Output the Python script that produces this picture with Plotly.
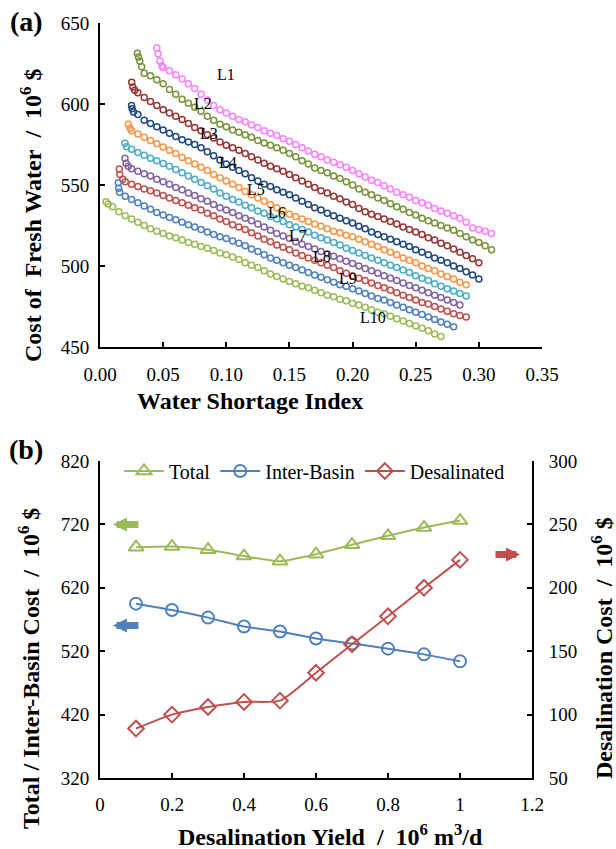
import numpy as np
import plotly.graph_objects as go

# ---------------- Panel (a): Pareto curves L1..L10 ----------------
STEP = 0.005
L1_hx = [0.045, 0.046, 0.0475, 0.049]
L1_hy = [634.5, 631, 626.5, 623.5]
L1_x0 = 0.050
L1_y = [622.5, 620.5, 618, 615.5, 612.5, 609.5, 606, 602.5, 599, 596.5, 594.5, 592.5, 590.5, 589, 587,
        585.5, 583.5, 582, 580.5, 578.5, 577, 575, 573, 571, 569, 567.5, 565.5, 564, 562.5, 561, 559, 557,
        555, 553, 551.5, 549.5, 547.5, 545.5, 544, 542.5, 540.5, 539, 537.5, 535.5, 534, 532.5, 531,
        529.5, 527, 523.5, 522.5, 521.5, 520]

L2_hx = [0.0296, 0.0305, 0.0315, 0.033]
L2_hy = [631.3, 629, 626.5, 623]
L2_x0 = 0.035
L2_y = [619, 617.5, 615, 612.5, 609, 606, 603, 600.5, 598, 595.5, 592.5, 590, 587.5, 586, 584, 582.5, 581,
        579.5, 577.5, 576, 574.5, 573, 571.5, 569.5, 567.5, 565, 563, 560.5, 559, 557.5, 555.5, 554, 552,
        550, 547.5, 545.5, 544, 542, 540.5, 538.5, 536.5, 535, 533, 531.5, 529.5, 528, 526.5, 525, 523.5,
        522, 520, 518, 516, 514.5, 512.5, 510]

L3_hx = [0.0251, 0.026, 0.0275]
L3_hy = [613.4, 610.5, 608.5]
L3_x0 = 0.030
L3_y = [607, 604, 601.5, 599, 596.5, 594.5, 592.5, 590.5, 588, 585.5, 583.5, 581, 579, 576.5, 574.5, 573,
        571.5, 569.5, 567.5, 565.5, 563.5, 561.5, 560, 558.5, 556.5, 554.5, 552.5, 550.5, 548.5, 546.5,
        545, 543, 541.5, 539.5, 538, 535.5, 533.5, 532, 530.5, 529, 527.5, 526, 524, 522.5, 521, 519.5,
        517.5, 516, 514, 512.5, 510.5, 508.5, 506.5, 504.5, 502]

L4_hx = [0.025, 0.0255, 0.0265]
L4_hy = [599, 597, 595]
L4_x0 = 0.030
L4_y = [593.5, 590, 588, 586, 584, 582, 580, 578, 576.5, 575, 573, 570.5, 568, 565.5, 563, 561, 559, 557,
        554.5, 552.5, 550.5, 549, 547, 545.5, 544, 542, 540, 538, 536, 534.5, 532.5, 531, 529.5, 528,
        526.5, 524.5, 523, 521, 519.5, 518, 516.5, 515, 513.5, 512, 510, 508.5, 507, 505, 503.5, 502,
        500, 498.5, 496.5, 494.5, 492]

L5_hx = [0.0224, 0.0238]
L5_hy = [587.5, 585]
L5_x0 = 0.025
L5_y = [583.5, 581.5, 579.5, 577.5, 575.5, 573.5, 571.5, 569.5, 567, 565, 563, 561, 559, 556.5, 554.5,
        552.5, 550.5, 548.5, 546, 544, 542, 540, 538, 536, 534, 532, 530.5, 529, 527.5, 526, 524.5, 523,
        521.5, 520.5, 519, 518, 516.5, 515, 513.5, 512, 510, 508.5, 507, 505, 503.5, 502, 500, 498.5,
        497, 495, 493.5, 492, 490, 488.5]

L6_hx = [0.0198, 0.021]
L6_hy = [575.7, 573.6]
L6_x0 = 0.025
L6_y = [572, 570, 568.3, 566.5, 565, 563.3, 561.5, 559.5, 557.5, 555.5, 553.5, 551.5, 549.5, 547.5, 545,
        543, 541, 539.5, 537.5, 536, 534, 532.5, 530.5, 529, 527.5, 525.5, 524, 522.5, 521, 519, 517.5,
        516, 514.5, 513, 511, 509.5, 508, 506.5, 505, 503.5, 502, 500.5, 499, 497.5, 496, 494, 492.5,
        491, 489, 487.5, 486, 484.5, 483, 481.5]

L7_hx = [0.0198, 0.0206, 0.0224]
L7_hy = [566.5, 563.5, 561.5]
L7_x0 = 0.025
L7_y = [560, 558.5, 557, 555.5, 553.5, 552, 550.5, 548.5, 547, 545, 543.5, 541.5, 540, 538, 536, 534.5,
        533, 531, 529.5, 528, 526, 524, 522, 520, 518.5, 517, 515, 513.5, 512, 510.5, 509, 507.5, 506,
        504.5, 503, 501.5, 500, 498.5, 497, 495.5, 494, 492.5, 491, 489.5, 488, 486.5, 485, 483.5, 482,
        480.5, 479, 477.5, 476]

L8_hx = [0.0153, 0.0157, 0.018]
L8_hy = [559.9, 556.5, 553.5]
L8_x0 = 0.020
L8_y = [552, 550.5, 549, 547.5, 546.5, 545, 543.5, 542, 540.5, 539, 537.5, 536, 534.5, 532.5, 531, 529,
        527.5, 525.5, 524, 522.5, 520.5, 518.5, 516.5, 515, 513, 511.5, 510, 508, 506.5, 505, 503.5, 502,
        500.5, 499, 497, 495.5, 494, 492.5, 491, 489.5, 488, 486.5, 485, 483.5, 482, 480.5, 479, 477.5,
        476.5, 475, 473.5, 472, 470.5, 469.5, 468.5]

L9_hx = [0.0145, 0.0148, 0.0155]
L9_hy = [551.4, 548, 545.5]
L9_x0 = 0.020
L9_y = [543, 541, 539, 537, 535, 533, 531.5, 530, 528.5, 527, 525.5, 524, 522.5, 521, 519.5, 518, 517,
        515.5, 514, 512.5, 510.5, 509, 507, 505, 503.5, 502, 500.5, 499, 497.5, 496, 494.5, 493, 491.5,
        490, 488.5, 487.5, 486, 484.5, 483, 481.5, 480, 479, 477.5, 476, 474.5, 473, 471.5, 470, 468.5,
        467, 465.5, 464, 462.5]

L10_hx = [0.0048, 0.0065]
L10_hy = [539.7, 538.2]
L10_x0 = 0.010
L10_y = [536.5, 533.5, 531, 529, 527, 525, 523, 521.5, 520, 518.5, 517.5, 516, 514.5, 513.5, 512, 511,
         509.5, 508, 507, 505.5, 504, 502, 500.5, 499, 497, 495, 493.5, 492, 490.5, 489, 487.5, 486.5,
         485, 483.5, 482, 481, 479.5, 478.5, 477, 476, 474.5, 473, 471.5, 470.5, 469, 467.5, 466, 464.5,
         463, 461.5, 460, 458, 456.5]

curve_names = ["L1", "L2", "L3", "L4", "L5", "L6", "L7", "L8", "L9", "L10"]
curve_colors = ["#FF80FF", "#77933C", "#943634", "#1F497D", "#F79646",
                "#4BACC6", "#8064A2", "#C0504D", "#4F81BD", "#9BBB59"]
curve_data = [
    (L1_hx, L1_hy, L1_x0, L1_y), (L2_hx, L2_hy, L2_x0, L2_y), (L3_hx, L3_hy, L3_x0, L3_y),
    (L4_hx, L4_hy, L4_x0, L4_y), (L5_hx, L5_hy, L5_x0, L5_y), (L6_hx, L6_hy, L6_x0, L6_y),
    (L7_hx, L7_hy, L7_x0, L7_y), (L8_hx, L8_hy, L8_x0, L8_y), (L9_hx, L9_hy, L9_x0, L9_y),
    (L10_hx, L10_hy, L10_x0, L10_y),
]
label_x = [0.0998, 0.0816, 0.0863, 0.101, 0.1235, 0.140, 0.1568, 0.1755, 0.196, 0.2158]
label_y = [617.9, 600.3, 581.8, 563.6, 547.5, 533.0, 519.1, 505.7, 492.0, 468.2]

# ---------------- Panel (b) ----------------
yield_x = [0.1, 0.2, 0.3, 0.4, 0.5, 0.6, 0.7, 0.8, 0.9, 1.0]
total_cost = [684, 685, 680, 670, 662, 673, 688, 702, 715, 726]
inter_basin_cost = [595, 585, 573, 559, 551, 540, 532, 524, 515, 504]
desal_cost = [89, 100, 106, 110, 111, 133, 155.5, 177.5, 200, 222]

SERIF = "Liberation Serif"
W, H = 616, 849

def px_x(p):
    return p / W

def px_y(p):
    return 1 - p / H

fig = go.Figure()

for name, col, (hx, hy, x0, ys) in zip(curve_names, curve_colors, curve_data):
    xs = list(hx) + [round(x0 + STEP * i, 4) for i in range(len(ys))]
    yy = list(hy) + list(ys)
    fig.add_trace(go.Scatter(
        x=xs, y=yy, mode="markers", name=name, showlegend=False,
        marker=dict(symbol="circle-open", size=6, color=col, line=dict(width=1.5, color=col)),
        xaxis="x", yaxis="y"))

GREEN, BLUE, RED = "#9BBB59", "#4F81BD", "#C0504D"
fig.add_trace(go.Scatter(x=yield_x, y=total_cost, name="Total", mode="lines+markers",
                         line=dict(color=GREEN, width=2, shape="spline", smoothing=0.6),
                         marker=dict(symbol="triangle-up-open", size=13, color=GREEN, line=dict(width=2, color=GREEN)),
                         xaxis="x2", yaxis="y2"))
fig.add_trace(go.Scatter(x=yield_x, y=inter_basin_cost, name="Inter-Basin", mode="lines+markers",
                         line=dict(color=BLUE, width=2, shape="spline", smoothing=0.6),
                         marker=dict(symbol="circle-open", size=12, color=BLUE, line=dict(width=2, color=BLUE)),
                         xaxis="x2", yaxis="y2"))
fig.add_trace(go.Scatter(x=yield_x, y=desal_cost, name="Desalinated", mode="lines+markers",
                         line=dict(color=RED, width=2, shape="spline", smoothing=0.6),
                         marker=dict(symbol="diamond-open", size=12, color=RED, line=dict(width=2, color=RED)),
                         xaxis="x2", yaxis="y3"))

tickfont = dict(family=SERIF, size=19, color="black")
common = dict(showline=True, linecolor="black", linewidth=2, ticks="inside", ticklen=5, tickwidth=2,
              tickcolor="black", showgrid=False, zeroline=False, tickfont=tickfont, automargin=False)

fig.update_layout(
    width=W, height=H, margin=dict(l=0, r=0, t=0, b=0, pad=0, autoexpand=False),
    paper_bgcolor="white", plot_bgcolor="white",
    xaxis=dict(domain=[px_x(100), px_x(542)], range=[0, 0.35], dtick=0.05, tick0=0, tickformat=".2f",
               anchor="y", ticklabelstandoff=9, **common),
    yaxis=dict(domain=[px_y(347), px_y(23)], range=[450, 650], dtick=50, tick0=450, anchor="x",
               ticklabelstandoff=5, **common),
    xaxis2=dict(domain=[px_x(100), px_x(532)], range=[0, 1.2], dtick=0.2, tick0=0, anchor="y2",
                ticklabelstandoff=8, **common),
    yaxis2=dict(domain=[px_y(778), px_y(461)], range=[320, 820], dtick=100, tick0=320, anchor="x2",
                ticklabelstandoff=5, **common),
    yaxis3=dict(range=[50, 300], dtick=50, tick0=50, overlaying="y2", side="right", anchor="x2",
                ticklabelstandoff=11, **common),
    legend=dict(orientation="h", x=px_x(119), y=px_y(471), xanchor="left", yanchor="middle",
                font=dict(family=SERIF, size=20, color="black"), bgcolor="rgba(0,0,0,0)",
                itemwidth=40, tracegroupgap=0),
    font=dict(family=SERIF, color="black"),
)

ann = []
for t, lx, ly in zip(curve_names, label_x, label_y):
    ann.append(dict(x=lx, y=ly, xref="x", yref="y", text=t, showarrow=False,
                    font=dict(family=SERIF, size=16, color="black")))

NB = "\u00a0"
titlefont = dict(family=SERIF, size=24, color="black")
C = dict(xref="paper", yref="paper", xanchor="center", yanchor="middle", showarrow=False)
ann += [
    dict(x=px_x(26), y=px_y(22), text="<b>(a)</b>", font=dict(family=SERIF, size=28, color="black"), **C),
    dict(x=px_x(26), y=px_y(449), text="<b>(b)</b>", font=dict(family=SERIF, size=28, color="black"), **C),
    dict(x=px_x(250), y=px_y(401), text="<b>Water Shortage Index</b>", font=titlefont, **C),
    dict(x=px_x(31), y=px_y(216), textangle=-90,
         text=f"<b>Cost of{NB}{NB}Fresh Water{NB}{NB}/{NB}{NB}10<sup>6</sup> $</b>", font=titlefont, **C),
    dict(x=px_x(330), y=px_y(835),
         text=f"<b>Desalination Yield{NB}{NB}/{NB}{NB}10<sup>6</sup> m<sup>3</sup>/d</b>", font=titlefont, **C),
    dict(x=px_x(29), y=px_y(669), textangle=-90,
         text=f"<b>Total / Inter-Basin Cost{NB}{NB}/{NB}{NB}10<sup>6</sup> $</b>", font=titlefont, **C),
    dict(x=px_x(602), y=px_y(648), textangle=-90,
         text=f"<b>Desalination Cost{NB}{NB}/{NB}{NB}10<sup>6</sup> $</b>", font=titlefont, **C),
    # axis-pointing block arrows
    dict(x=0.036, y=720, ax=0.111, ay=720, xref="x2", yref="y2", axref="x2", ayref="y2", text="",
         showarrow=True, arrowhead=2, arrowsize=0.4, arrowwidth=7, arrowcolor=GREEN),
    dict(x=0.036, y=560.7, ax=0.111, ay=560.7, xref="x2", yref="y2", axref="x2", ayref="y2", text="",
         showarrow=True, arrowhead=2, arrowsize=0.4, arrowwidth=7, arrowcolor=BLUE),
    dict(x=1.1667, y=226.3, ax=1.0944, ay=226.3, xref="x2", yref="y3", axref="x2", ayref="y3", text="",
         showarrow=True, arrowhead=2, arrowsize=0.4, arrowwidth=7, arrowcolor=RED),
]
fig.update_layout(annotations=ann)

# the page's default 8px body margin would push the 616x849 figure out of the window
fig.write_html("out.html", config={"displayModeBar": False},
               post_script="document.body.style.margin='0px';")
